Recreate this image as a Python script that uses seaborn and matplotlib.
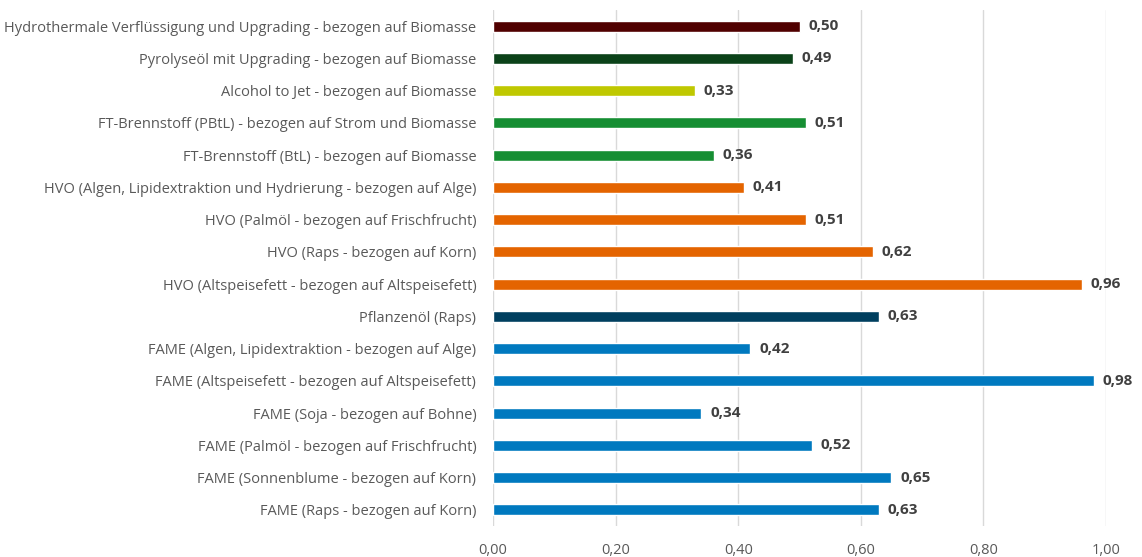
import numpy as np
import pandas as pd
import matplotlib
matplotlib.use("Agg")
import matplotlib.pyplot as plt
import seaborn as sns

labels = [
    "Hydrothermale Verflüssigung und Upgrading - bezogen auf Biomasse",
    "Pyrolyseöl mit Upgrading - bezogen auf Biomasse",
    "Alcohol to Jet - bezogen auf Biomasse",
    "FT-Brennstoff (PBtL) - bezogen auf Strom und Biomasse",
    "FT-Brennstoff (BtL) - bezogen auf Biomasse",
    "HVO (Algen, Lipidextraktion und Hydrierung - bezogen auf Alge)",
    "HVO (Palmöl - bezogen auf Frischfrucht)",
    "HVO (Raps - bezogen auf Korn)",
    "HVO (Altspeisefett - bezogen auf Altspeisefett)",
    "Pflanzenöl (Raps)",
    "FAME (Algen, Lipidextraktion - bezogen auf Alge)",
    "FAME (Altspeisefett - bezogen auf Altspeisefett)",
    "FAME (Soja - bezogen auf Bohne)",
    "FAME (Palmöl - bezogen auf Frischfrucht)",
    "FAME (Sonnenblume - bezogen auf Korn)",
    "FAME (Raps - bezogen auf Korn)",
]
values = [0.50, 0.49, 0.33, 0.51, 0.36, 0.41, 0.51, 0.62, 0.96, 0.63,
          0.42, 0.98, 0.34, 0.52, 0.65, 0.63]
colors = ["#500000", "#0B4219", "#BFC800", "#168E33", "#168E33",
          "#E46400", "#E46400", "#E46400", "#E46400", "#003F5F",
          "#0079BF", "#0079BF", "#0079BF", "#0079BF", "#0079BF", "#0079BF"]

df = pd.DataFrame({"label": labels, "value": values})

sns.set_style("white")
plt.rcParams["font.family"] = ["Open Sans", "DejaVu Sans"]

fig = plt.figure(figsize=(11.42, 5.57), dpi=100)
# plot area: x from 493 to 1106 px, rows from 10 to 526 px
ax = fig.add_axes([0.4317, 1 - 526 / 557, 0.5368, 516 / 557])

sns.barplot(data=df, x="value", y="label", hue="label", palette=colors,
            order=labels, width=0.34, legend=False, ax=ax, saturation=1)

for i, v in enumerate(values):
    ax.text(v + 0.014, i, f"{v:.2f}".replace(".", ","), va="center", ha="left",
            fontsize=11, fontweight="bold", color="#404040")

ax.set_xlim(0, 1.0)
ticks = np.arange(0, 1.01, 0.2)
ax.set_xticks(ticks)
ax.set_xticklabels([f"{t:.2f}".replace(".", ",") for t in ticks],
                   fontsize=10.5, color="#595959")
ax.tick_params(axis="y", labelsize=10.5, labelcolor="#595959", length=0, pad=12)
ax.tick_params(axis="x", length=0, pad=12)
ax.set_xlabel("")
ax.set_ylabel("")
ax.grid(axis="x", color="#D9D9D9", linewidth=1)
ax.set_axisbelow(True)
for s in ax.spines.values():
    s.set_visible(False)

fig.savefig("out.png", dpi=100)
